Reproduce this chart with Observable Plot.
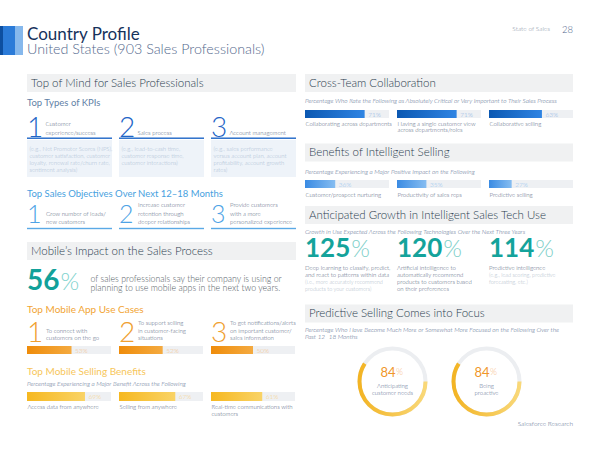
<!DOCTYPE html>
<html><head><meta charset="utf-8">
<script src="https://cdn.jsdelivr.net/npm/d3@7"></script>
<script src="https://cdn.jsdelivr.net/npm/@observablehq/plot@0.6"></script>
<style>
body{margin:0;background:#fff;}
#page{position:relative;width:600px;height:450px;overflow:hidden;background:#fff;font-family:Lato,"Open Sans",sans-serif;}
#page svg{overflow:visible;}
</style></head><body><div id="page"></div>
<script>
// ---------- data ----------
const title = "Country Profile";
const subtitle = "United States (903 Sales Professionals)";
const kpiLabels = ["Customer\nexperience/success", "Sales process", "Account management"];
const kpiExamples = [
  "(e.g., Net Promoter Scores (NPS),\ncustomer satisfaction, customer\nloyalty, renewal rate/churn rate,\nsentiment analysis)",
  "(e.g., lead-to-cash time,\ncustomer response time,\ncustomer interactions)",
  "(e.g., sales performance\nversus account plan, account\nprofitability, account growth\nrates)"
];
const objectives = ["Grow number of leads/\nnew customers", "Increase customer\nretention through\ndeeper relationships", "Provide customers\nwith a more\npersonalized experience"];
const mobileShare = 56;
const mobileUseCases = ["To connect with\ncustomers on the go", "To support selling\nin customer-facing\nsituations", "To get notifications/alerts\non important customer/\nsales information"];
const mobileUseValues = [53, 52, 50];
const sellingBenefits = ["Access data from anywhere", "Selling from anywhere", "Real-time communications with\ncustomers"];
const sellingBenefitValues = [69, 67, 61];
const collabLabels = ["Collaborating across departments", "Having a single customer view\nacross departments/roles", "Collaborative selling"];
const collabValues = [71, 71, 63];
const intelligentLabels = ["Customer/prospect nurturing", "Productivity of sales reps", "Predictive selling"];
const intelligentValues = [36, 35, 27];
const growthValues = [125, 120, 114];
const growthLabels = ["Deep learning to classify, predict,\nand react to patterns within data", "Artificial intelligence to\nautomatically recommend\nproducts to customers based\non their preferences", "Predictive intelligence"];
const growthNotes = ["(i.e., more accurately recommend\nproducts to your customers)", "", "(e.g., lead scoring, predictive\nforecasting, etc.)"];
const focusLabels = ["Anticipating\ncustomer needs", "Being\nproactive"];
const focusValues = [84, 84];

// ---------- layout ----------
const L = 27, R = 305, COLW = 268, STEP = 92;
const INK = "#4f617a";
const page = d3.select("#page");
const svg = page.append("svg").attr("width", 600).attr("height", 450)
  .style("position", "absolute").style("left", 0).style("top", 0);

function label(x, y, str, o = {}) {
  const lines = String(str).split("\n");
  const size = o.size ?? 6;
  const lh = o.lh ?? size * 1.2;
  const y0 = o.bottom ? y - (lines.length - 1) * lh : y;
  const t = svg.append("text").attr("x", x).attr("y", y0)
    .attr("font-size", size).attr("fill", o.fill ?? INK)
    .attr("font-weight", o.weight ?? 300).attr("font-style", o.italic ? "italic" : null)
    .attr("text-anchor", o.anchor ?? "start").attr("font-family", "Lato");
  lines.forEach((ln, i) => t.append("tspan").attr("x", x).attr("y", y0 + i * lh).text(ln));
  return t;
}
function pct(x, y, num, o) {
  const t = svg.append("text").attr("x", x).attr("y", y).attr("font-family", "Lato");
  t.append("tspan").attr("font-size", o.size).attr("font-weight", o.weight).attr("fill", o.fill).text(num);
  t.append("tspan").attr("font-size", o.pSize).attr("font-weight", 300).attr("fill", o.pFill).attr("dx", o.gap ?? 1).text("%");
}
function header(x, y, str) {
  svg.append("rect").attr("x", x).attr("y", y).attr("width", COLW + (x === L ? 1 : 0)).attr("height", 18).attr("fill", "#f0f1f2");
  label(x + 4, y + 12.8, str, {size: 11.5, fill: "#2b3d50", weight: 300});
}

// title block
[["#0d4fa0", 0, 3], ["#2b7bd8", 3, 12], ["#86b8ec", 15, 8]].forEach(([c, x, w]) =>
  svg.append("rect").attr("x", x).attr("y", 26).attr("width", w).attr("height", 29).attr("fill", c));
label(27, 40, title, {size: 17, fill: "#16325c", weight: 400});
label(27, 54, subtitle, {size: 14.3, fill: "#54698d", weight: 300});
label(550, 31, "State of Sales", {size: 6.5, fill: "#7f8fa4", anchor: "end"});
label(573, 32.5, "28", {size: 9.5, fill: "#54698d", anchor: "end"});

// left column
header(L, 74, "Top of Mind for Sales Professionals");
label(L, 106, "Top Types of KPIs", {size: 9.5, fill: "#5f7fa6", weight: 400});
kpiLabels.forEach((s, i) => {
  const x = L + i * STEP;
  label(x, 136.5, String(i + 1), {size: 28, fill: "#1f66c7", weight: 300});
  label(x + 18.5, 134.5, s, {size: 6, bottom: true, lh: 8.3});
  svg.append("rect").attr("x", x).attr("y", 137.5).attr("width", 85).attr("height", 1.4).attr("fill", "#1f66c7");
  svg.append("rect").attr("x", x).attr("y", 140).attr("width", 85).attr("height", 37).attr("fill", "#eef3f9");
  label(x + 2.5, 151, kpiExamples[i], {size: 5.9, fill: "#a9bbd3", lh: 7});
});
label(L, 196.5, "Top Sales Objectives Over Next 12\u201318 Months", {size: 9.5, fill: "#48a1e0", weight: 400});
objectives.forEach((s, i) => {
  const x = L + i * STEP;
  label(x, 223.3, String(i + 1), {size: 25, fill: "#4ea3e6", weight: 300});
  label(x + 19, 223.7, s, {size: 6, bottom: true, lh: 8.2});
  svg.append("rect").attr("x", x).attr("y", 227.8).attr("width", 85).attr("height", 1.4).attr("fill", "#5aa9e6");
});
header(L, 242, "Mobile\u2019s Impact on the Sales Process");
pct(L, 290, String(mobileShare), {size: 28, weight: 700, fill: "#12a19a", pSize: 24, pFill: "#7fd3ce", gap: 1});
label(90.5, 282, "of sales professionals say their company is using or\nplanning to use mobile apps in the next two years.", {size: 8.8, fill: "#555d66", lh: 9.3});
label(L, 312.5, "Top Mobile App Use Cases", {size: 10, fill: "#f2a535", weight: 400});
mobileUseCases.forEach((s, i) => {
  const x = L + i * STEP;
  label(x, 341.7, String(i + 1), {size: 28, fill: "#f0a030", weight: 300});
  label(x + 19, 340, s, {size: 6, bottom: true, lh: 7.4});
});
label(L, 375, "Top Mobile Selling Benefits", {size: 10, fill: "#f7c65a", weight: 400});
label(L, 386, "Percentage Experiencing a Major Benefit Across the Following", {size: 6.4, italic: true, fill: "#54698d"});

// right column
header(R, 74, "Cross-Team Collaboration");
label(R, 103, "Percentage Who Rate the Following as Absolutely Critical or Very Important to Their Sales Process", {size: 6.4, italic: true, fill: "#54698d"});
header(R, 143.5, "Benefits of Intelligent Selling");
label(R, 174.3, "Percentage Experiencing a Major Positive Impact on the Following", {size: 6.4, italic: true, fill: "#54698d"});
header(R, 206, "Anticipated Growth in Intelligent Sales Tech Use");
label(R, 234, "Growth in Use Expected Across the Following Technologies Over the Next Three Years", {size: 6.4, italic: true, fill: "#54698d"});
growthValues.forEach((v, i) => {
  const x = R + i * STEP;
  pct(x, 257, String(v), {size: 26, weight: 700, fill: "#14a39b", pSize: 24, pFill: "#80cfc9", gap: 1});
  const n = growthLabels[i].split("\n").length;
  label(x, 269.5, growthLabels[i], {size: 6, lh: 7.1});
  if (growthNotes[i]) label(x, 269.5 + n * 7.1, growthNotes[i], {size: 5.5, lh: 7.1, fill: "#aab7c7"});
});
header(R, 304.5, "Predictive Selling Comes into Focus");
label(R, 332, "Percentage Who Have Become Much More or Somewhat More Focused on the Following Over the\nPast 12\u201318 Months", {size: 6.4, italic: true, fill: "#54698d", lh: 7.3});
label(573, 425.5, "Salesforce Research", {size: 6.5, fill: "#54698d", anchor: "end"});

// ---------- Plot charts ----------
function place(chart, left, top) {
  const div = page.append("div").style("position", "absolute").style("left", left + "px").style("top", top + "px");
  div.node().appendChild(chart);
}
function gradient(chart, id, c0, c1) {
  const defs = d3.select(chart).insert("defs", ":first-child");
  const g = defs.append("linearGradient").attr("id", id);
  g.append("stop").attr("offset", "0%").attr("stop-color", c0);
  g.append("stop").attr("offset", "100%").attr("stop-color", c1);
}
function barGroup(left, top, labels, values, o) {
  const data = labels.map((label, i) => ({label, value: values[i]}));
  const marks = [
    Plot.barX(data, {fx: "label", y: () => "bar", x: () => 100, fill: "#eef0f3"}),
    Plot.barX(data, {fx: "label", y: () => "bar", x: "value", fill: `url(#${o.id})`}),
    Plot.text(data, {fx: "label", y: () => "bar", x: "value", text: d => `${d.value}%`, dx: 3, textAnchor: "start", fill: o.valueFill, fontSize: 6.5, fontWeight: 300})
  ];
  if (o.below) marks.push(Plot.text(data, {fx: "label", text: "label", frameAnchor: "top-left", textAnchor: "start", lineAnchor: "top", dy: o.labelDy, fontSize: 6, lineHeight: 1.08, fill: INK, fontWeight: 300}));
  const chart = Plot.plot({
    width: COLW, height: o.height, margin: 0,
    style: {fontFamily: "Lato", background: "transparent", overflow: "visible"},
    x: {domain: [0, 100], axis: null},
    y: {domain: ["bar"], range: [0, o.barH], padding: 0, axis: null},
    fx: {domain: labels, paddingInner: 0.087, paddingOuter: 0, axis: null},
    marks
  });
  gradient(chart, o.id, o.c0, o.c1);
  place(chart, left, top);
}
barGroup(L, 346.3, mobileUseCases, mobileUseValues, {id: "gOrange", c0: "#ef8c0a", c1: "#f4aa40", valueFill: "#f5bf86", height: 9, barH: 8.7});
barGroup(L, 391.7, sellingBenefits, sellingBenefitValues, {id: "gYellow", c0: "#f6b820", c1: "#f9d366", valueFill: "#f8d282", height: 30, barH: 9, below: true, labelDy: 12.1});
barGroup(R, 110, collabLabels, collabValues, {id: "gBlue", c0: "#0b58b2", c1: "#2f84e3", valueFill: "#8db3e6", height: 30, barH: 8, below: true, labelDy: 10.8});
barGroup(R, 179.5, intelligentLabels, intelligentValues, {id: "gLight", c0: "#3a8be3", c1: "#86bdf1", valueFill: "#8ec3f0", height: 25, barH: 8, below: true, labelDy: 12.3});

// donuts
const donutData = focusLabels.map((label, i) => ({label, value: focusValues[i]}));
const DR = 33, DC = 2 * Math.PI * DR;
const donut = Plot.plot({
  width: 188, height: 80, margin: 0,
  style: {fontFamily: "Lato", background: "transparent", overflow: "visible"},
  x: {type: "point", domain: focusLabels, padding: 0.5, axis: null},
  marks: [
    Plot.dot(donutData, {x: "label", r: DR, stroke: "#eceef1", strokeWidth: 4, fill: "none"}),
    ...donutData.map(d => Plot.dot([d], {x: "label", r: DR, stroke: "url(#gDonut)", strokeWidth: 4, fill: "none",
      strokeDasharray: `${d.value / 100 * DC} ${DC}`, strokeDashoffset: DC * 0.25})),
    Plot.text(donutData, {x: "label", text: d => String(d.value), textAnchor: "end", dx: 3, dy: -9, fontSize: 13, fill: "#f0962a"}),
    Plot.text(donutData, {x: "label", text: () => "%", textAnchor: "start", dx: 3.5, dy: -9, fontSize: 9, fill: "#f7c391", fontWeight: 300}),
    Plot.text(donutData, {x: "label", text: "label", dy: 7.5, fontSize: 6, lineHeight: 1.2, fill: "#54698d", fontWeight: 300})
  ]
});
gradient(donut, "gDonut", "#f3b424", "#f9d878");
place(donut, 345, 341.3);
</script></body></html>
